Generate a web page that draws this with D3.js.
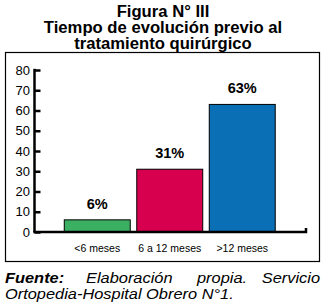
<!DOCTYPE html>
<html>
<head>
<meta charset="utf-8">
<script src="https://cdn.jsdelivr.net/npm/d3@7"></script>
<style>
  body { margin: 0; background: #fff; }
  svg { display: block; font-family: "Liberation Sans", Arial, sans-serif; }
</style>
</head>
<body>
<svg class="chart" width="326" height="307"></svg>
<script>
// chart data
var categories = ['<6 meses', '6 a 12 meses', '>12 meses'];
var values = [6, 31, 63];
var barColors = ['#3cb062', '#d6004f', '#0a6fb5'];
var yTicks = [0, 10, 20, 30, 40, 50, 60, 70, 80];
var titleLines = ['Figura N° III', 'Tiempo de evolución previo al', 'tratamiento quirúrgico'];

var svg = d3.select('svg.chart');

// the original lettering is a bit wider than Arial, stretch text a little
function widen(sel, k) {
    sel.each(function() {
        var w = this.getComputedTextLength();
        d3.select(this).attr('textLength', w * k).attr('lengthAdjust', 'spacingAndGlyphs');
    });
}

// title
svg.selectAll('.title')
    .data(titleLines)
    .enter().append('text')
    .attr('class', 'title')
    .attr('x', 163)
    .attr('y', function(d, i) { return 16.5 + i * 16; })
    .attr('text-anchor', 'middle')
    .style('font-size', '16px')
    .style('font-weight', 'bold')
    .text(function(d) { return d; })
    .call(widen, 1.04);

// frame round the chart
svg.append('rect')
    .attr('x', 5.5).attr('y', 52.5)
    .attr('width', 314).attr('height', 209)
    .attr('fill', 'none')
    .attr('stroke', '#000')
    .attr('stroke-width', 1.2);

// scales
var xScale = d3.scaleBand()
    .domain(categories)
    .range([61, 278.5])
    .paddingInner(0.09)
    .paddingOuter(0.045);
var yScale = d3.scaleLinear().domain([0, 80]).range([232, 70]);

var axisX = 34.5;

// y axis: ticks go inward
var yAxis = d3.axisRight(yScale)
    .tickValues(yTicks)
    .tickSize(6)
    .tickFormat('');
var yAxisG = svg.append('g')
    .attr('transform', 'translate(' + axisX + ',0)')
    .call(yAxis);
yAxisG.select('.domain').remove();
yAxisG.selectAll('.tick line').attr('stroke', '#000').attr('stroke-width', 2.5);

svg.append('line')
    .attr('x1', axisX).attr('x2', axisX)
    .attr('y1', yScale(80) - 1.2).attr('y2', yScale(0))
    .attr('stroke', '#000').attr('stroke-width', 2.5);

svg.selectAll('.ylab')
    .data(yTicks)
    .enter().append('text')
    .attr('class', 'ylab')
    .attr('x', 30)
    .attr('y', function(d) { return yScale(d) + 4.5; })
    .attr('text-anchor', 'end')
    .style('font-size', '13px')
    .text(function(d) { return d; });

// bars
svg.selectAll('.bar')
    .data(values)
    .enter().append('rect')
    .attr('class', 'bar')
    .attr('x', function(d, i) { return xScale(categories[i]); })
    .attr('y', function(d) { return yScale(d); })
    .attr('width', xScale.bandwidth())
    .attr('height', function(d) { return yScale(0) - yScale(d); })
    .attr('fill', function(d, i) { return barColors[i]; })
    .attr('stroke', '#000')
    .attr('stroke-width', 1);

// baseline with small end tick
var xEnd = 306;
svg.append('path')
    .attr('d', 'M' + (axisX - 1.2) + ',' + yScale(0) + 'H' + xEnd + 'V' + (yScale(0) - 4))
    .attr('fill', 'none')
    .attr('stroke', '#000')
    .attr('stroke-width', 2.5);

// value labels
svg.selectAll('.val')
    .data(values)
    .enter().append('text')
    .attr('class', 'val')
    .attr('x', function(d, i) { return xScale(categories[i]) + xScale.bandwidth() / 2; })
    .attr('y', function(d) { return yScale(d) - 11; })
    .attr('text-anchor', 'middle')
    .style('font-size', '14.5px')
    .style('font-weight', 'bold')
    .text(function(d) { return d + '%'; });

// category labels
svg.selectAll('.cat')
    .data(categories)
    .enter().append('text')
    .attr('class', 'cat')
    .attr('x', function(d) { return xScale(d) + xScale.bandwidth() / 2; })
    .attr('y', 252)
    .attr('text-anchor', 'middle')
    .style('font-size', '10.5px')
    .text(function(d) { return d; });

// source note, first line justified
var note = svg.append('g').style('font-style', 'italic').style('font-size', '14px');
note.append('text').attr('x', 5).attr('y', 283)
    .style('font-weight', 'bold').text('Fuente:').call(widen, 1.17);
note.append('text').attr('x', 86).attr('y', 283).text('Elaboración').call(widen, 1.17);
note.append('text').attr('x', 197).attr('y', 283).text('propia.').call(widen, 1.17);
note.append('text').attr('x', 320).attr('y', 283).attr('text-anchor', 'end')
    .text('Servicio').call(widen, 1.17);
note.append('text').attr('x', 5).attr('y', 298.5)
    .text('Ortopedia-Hospital Obrero N°1.').call(widen, 1.17);
</script>
</body>
</html>
